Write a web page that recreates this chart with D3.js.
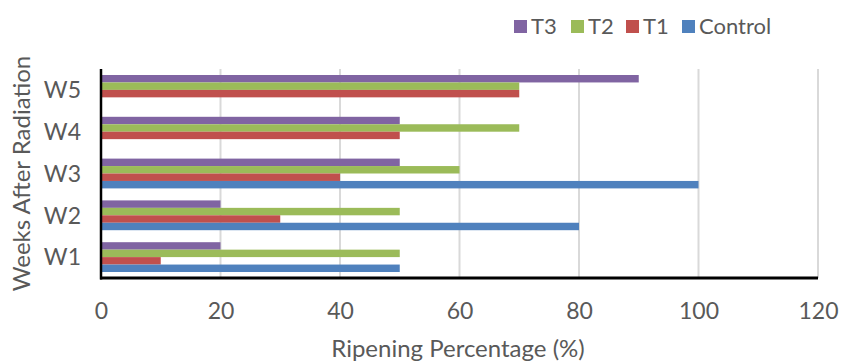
<!DOCTYPE html>
<html>
<head>
<meta charset="utf-8">
<script src="https://cdn.jsdelivr.net/npm/d3@7"></script>
<style>
  html, body { margin: 0; padding: 0; background: #fff; }
  svg { display: block; }
  text { font-family: Lato, "Liberation Sans", sans-serif; fill: #595959; }
</style>
</head>
<body>
<svg id="chart" width="841" height="361"></svg>
<script>
// Weeks after radiation (bottom to top on the chart)
const weeks = ["W1", "W2", "W3", "W4", "W5"];
// Treatment series, in legend order
const seriesNames = ["T3", "T2", "T1", "Control"];
const seriesColors = ["#8064a2", "#9bbb59", "#c0504d", "#4f81bd"];
// Ripening percentage per week, one array per series
const control = [50, 80, 100, 0, 0];
const t1 = [10, 30, 40, 50, 70];
const t2 = [50, 50, 60, 70, 70];
const t3 = [20, 20, 50, 50, 90];
const xTicks = [0, 20, 40, 60, 80, 100, 120];

const seriesValues = { "T3": t3, "T2": t2, "T1": t1, "Control": control };

const svg = d3.select("#chart");
const plot = { left: 101, right: 818, top: 69, bottom: 278 };

const x = d3.scaleLinear().domain([0, 120]).range([plot.left, plot.right]);
const y0 = d3.scaleBand().domain(weeks.slice().reverse()).range([plot.top, plot.bottom]).padding(0);
const groupPad = 6;
const y1 = d3.scaleBand().domain(seriesNames).range([groupPad, y0.bandwidth() - groupPad]).padding(0);

// vertical gridlines
svg.append("g").selectAll("line")
  .data(xTicks.filter(d => d > 0))
  .join("line")
  .attr("x1", d => x(d)).attr("x2", d => x(d))
  .attr("y1", plot.top).attr("y2", plot.bottom)
  .attr("stroke", "#d9d9d9").attr("stroke-width", 2);

// bars
const rows = [];
weeks.forEach((w, i) => seriesNames.forEach((s, j) => rows.push({ week: w, series: s, value: seriesValues[s][i], color: seriesColors[j] })));
svg.append("g").selectAll("rect")
  .data(rows.filter(d => d.value > 0))
  .join("rect")
  .attr("x", x(0))
  .attr("y", d => y0(d.week) + y1(d.series))
  .attr("width", d => x(d.value) - x(0))
  .attr("height", y1.bandwidth())
  .attr("fill", d => d.color);

// axes lines
svg.append("line").attr("x1", plot.left).attr("x2", plot.left)
  .attr("y1", plot.top).attr("y2", plot.bottom + 1.5)
  .attr("stroke", "#000").attr("stroke-width", 2.5);
svg.append("line").attr("x1", plot.left - 1).attr("x2", plot.right)
  .attr("y1", plot.bottom).attr("y2", plot.bottom)
  .attr("stroke", "#000").attr("stroke-width", 3);

// x tick labels
const xAxis = d3.axisBottom(x).tickValues(xTicks).tickSize(0).tickPadding(0);
const gx = svg.append("g").attr("transform", `translate(0,${plot.bottom + 25})`).call(xAxis);
gx.select(".domain").remove();
gx.selectAll("text").attr("font-size", 23).attr("dy", "0.71em").style("font-family", null);

// y tick labels
const yAxis = d3.axisLeft(y0).tickSize(0).tickPadding(0);
const gy = svg.append("g").attr("transform", `translate(${plot.left - 20},0)`).call(yAxis);
gy.select(".domain").remove();
gy.selectAll("text").attr("font-size", 23).attr("dy", "0.36em").style("font-family", null);
svg.selectAll(".tick text").attr("fill", "#595959");

// axis titles
svg.append("text").attr("x", 458).attr("y", 357)
  .attr("text-anchor", "middle").attr("font-size", 24)
  .text("Ripening Percentage (%)");
svg.append("text")
  .attr("transform", `translate(30,${(plot.top + plot.bottom) / 2}) rotate(-90)`)
  .attr("text-anchor", "middle").attr("font-size", 24)
  .text("Weeks After Radiation");

// legend
const legendX = [514, 571, 626, 682];
const lg = svg.append("g");
seriesNames.forEach((s, i) => {
  lg.append("rect").attr("x", legendX[i]).attr("y", 20).attr("width", 13).attr("height", 13).attr("fill", seriesColors[i]);
  lg.append("text").attr("x", legendX[i] + 17).attr("y", 34).attr("font-size", 22).text(s);
});
</script>
</body>
</html>
